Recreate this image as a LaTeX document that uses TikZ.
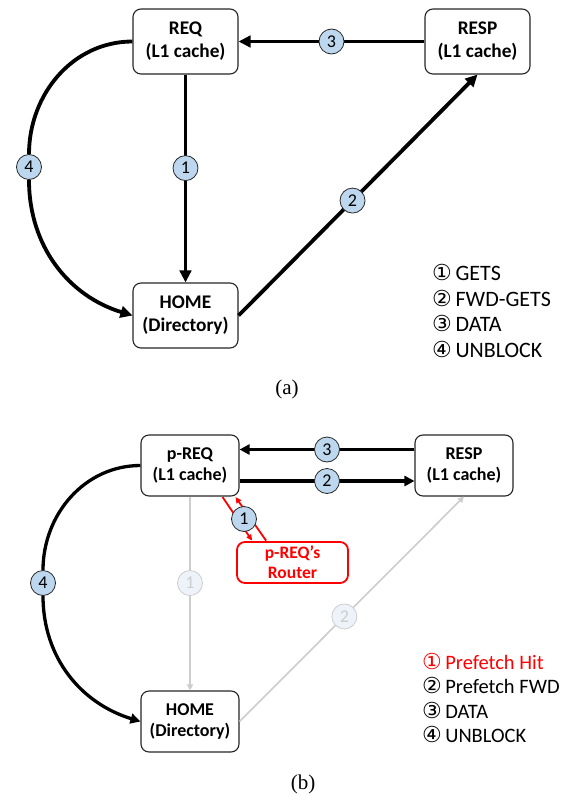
\documentclass[tikz,border=0pt]{standalone}
\usepackage{fontspec}
\usetikzlibrary{arrows.meta,calc}
\newfontfamily\boxfont{Carlito}
\newfontfamily\capfont{Liberation Serif}
\newfontfamily\circfont{DejaVu Sans}
\definecolor{numblue}{HTML}{BDD7EE}
\definecolor{fadeline}{HTML}{CDCDCD}
\definecolor{fadefill}{HTML}{EEF3F9}
\definecolor{routerred}{HTML}{FF0000}
\newcommand{\circnum}[1]{{\circfont\fontsize{22}{22}\selectfont #1}\,}
\tikzset{
  unit/.style={draw=black!85, line width=1.1pt, rounded corners=8pt, fill=white,
    align=center, inner sep=0pt},
  unitA/.style={unit, minimum width=105pt, minimum height=65pt,
    font=\boxfont\bfseries\fontsize{19.3}{23}\selectfont},
  unitB/.style={unit, minimum width=98pt, minimum height=61pt,
    font=\boxfont\bfseries\fontsize{18}{21.5}\selectfont},
  num/.style={circle, draw=black!85, line width=0.8pt, fill=numblue, minimum size=25pt,
    inner sep=0pt, font=\boxfont\fontsize{18}{18}\selectfont},
  fadenum/.style={num, draw=fadeline, fill=fadefill, text=fadeline},
  msgA/.style={line width=3.8pt, -{Triangle[length=12pt,width=11.5pt]}},
  msgB/.style={line width=3.3pt, -{Triangle[length=10pt,width=10pt]}},
  fademsg/.style={line width=1.6pt, draw=fadeline, -{Triangle[length=6pt,width=6pt]}},
  redmsg/.style={line width=1.8pt, draw=routerred, -{Triangle[length=6pt,width=5.5pt]}},
  legendA/.style={anchor=base west, inner sep=0pt, font=\boxfont\fontsize{22}{22}\selectfont},
  legendB/.style={anchor=base west, inner sep=0pt, font=\boxfont\fontsize{20.5}{20.5}\selectfont},
  caption/.style={font=\capfont\fontsize{21}{21}\selectfont},
}
\begin{document}
\begin{tikzpicture}[x=1pt, y=-1pt]
\useasboundingbox (0,0) rectangle (565,795);

% ---------------- (a) plain GETS flow ----------------
\node[unitA] (req)  at (185.5,41.5)  {REQ\\(L1 cache)};
\node[unitA] (resp) at (477.5,41.5)  {RESP\\(L1 cache)};
\node[unitA] (home) at (185.5,315.5) {HOME\\(Directory)};
\node[num] (n4a) at (29,167) {4};

\draw[msgA] (req.south) -- (home.north) node[num, pos=0.45] {1};
\draw[msgA] (home.east) -- (resp.south) node[num, pos=0.477] {2};
\draw[msgA] (resp.west) -- (req.east) node[num, pos=0.5] {3};
\draw[line width=3.8pt] (req.west) to[out=180, in=90] (n4a.north);
\draw[msgA] (n4a.south) to[out=-90, in=163] (home.west);

\node[legendA] (la1) at (432,280) {\circnum{①}GETS};
\node[legendA] (la2) at (432,306) {\circnum{②}FWD-GETS};
\node[legendA] (la3) at (432,331) {\circnum{③}DATA};
\node[legendA] (la4) at (432,357) {\circnum{④}UNBLOCK};

\node[caption] (capa) at (287,389) {(a)};

% ---------------- (b) prefetch hit flow ----------------
\node[unitB] (preq)  at (190,465.5) {p-REQ\\(L1 cache)};
\node[unitB] (presp) at (464,465.5) {RESP\\(L1 cache)};
\node[unitB] (phome) at (190,721.5) {HOME\\(Directory)};
\node[unit, draw=routerred, text=routerred, line width=1.8pt, minimum width=111pt,
      minimum height=41pt, font=\boxfont\bfseries\fontsize{17.5}{20}\selectfont]
      (router) at (292.5,562.5) {p-REQ’s\\Router};
\node[num] (n4b) at (43,583) {4};

% faded paths that the prefetch hit makes unnecessary
\draw[fademsg] (preq.south) -- (phome.north) node[fadenum, pos=0.446] {1};
\draw[fademsg] (phome.east) -- (presp.south) node[fadenum, pos=0.467] {2};

% p-REQ <-> router exchange
\draw[redmsg] ($(preq.south east)+(-17,0.5)$) -- ($(router.north west)+(16,-0.5)$);
\draw[redmsg] ($(router.north west)+(30,-0.5)$) -- ($(preq.south east)+(-4,0.5)$);
\node[num] (n1b) at (244,519) {1};

\draw[msgB] ($(presp.west)+(0,-16)$) -- ($(preq.east)+(0,-16)$) node[num, pos=0.5] {3};
\draw[msgB] ($(preq.east)+(0,15.5)$) -- ($(presp.west)+(0,15.5)$) node[num, pos=0.5] {2};
\draw[line width=3.3pt] (preq.west) to[out=180, in=90] (n4b.north);
\draw[msgB] (n4b.south) to[out=-90, in=163] (phome.west);

\node[legendB, text=routerred] (lb1) at (422,669) {\circnum{①}Prefetch Hit};
\node[legendB] (lb2) at (422,693.5) {\circnum{②}Prefetch FWD};
\node[legendB] (lb3) at (422,718) {\circnum{③}DATA};
\node[legendB] (lb4) at (422,742.5) {\circnum{④}UNBLOCK};

\node[caption] (capb) at (303,784) {(b)};
\end{tikzpicture}
\end{document}
